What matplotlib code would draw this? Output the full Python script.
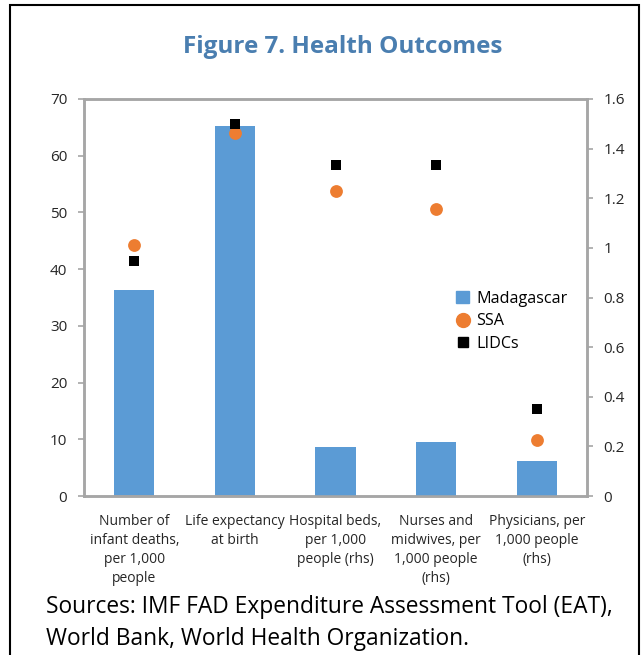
import matplotlib
matplotlib.use('Agg')
import matplotlib.pyplot as plt
from matplotlib.patches import Rectangle
from matplotlib.lines import Line2D
import numpy as np

plt.rcParams['font.family'] = ['Open Sans', 'DejaVu Sans']

categories = ['Number of\ninfant deaths,\nper 1,000\npeople',
              'Life expectancy\nat birth',
              'Hospital beds,\nper 1,000\npeople (rhs)',
              'Nurses and\nmidwives, per\n1,000 people\n(rhs)',
              'Physicians, per\n1,000 people\n(rhs)']
on_rhs = [False, False, True, True, True]
madagascar = [36.3, 65.3, 0.199, 0.217, 0.141]
ssa = [44.2, 64.0, 1.229, 1.155, 0.226]
lidcs = [41.5, 65.6, 1.335, 1.335, 0.351]

bar_color = '#5B9BD5'
ssa_color = '#ED7D31'
spine_color = '#A6A6A6'
my_dpi = 100

fig = plt.figure(figsize=(642/my_dpi, 655/my_dpi), dpi=my_dpi)
ax = fig.add_axes([84/642, 1-496/655, (587-84)/642, (496-99)/655])
ax2 = ax.twinx()

x = np.arange(len(categories))
for i in range(len(categories)):
    a = ax2 if on_rhs[i] else ax
    a.bar(x[i], madagascar[i], width=0.4, color=bar_color, zorder=2)
    a.scatter(x[i], ssa[i], s=85, marker='o', color=ssa_color, zorder=3, linewidths=0)
    a.scatter(x[i], lidcs[i], s=55, marker='s', color='black', zorder=4, linewidths=0)

ax.set_xlim(-0.5, len(categories)-0.5)
ax.set_ylim(0, 70)
ax.set_yticks(np.arange(0, 71, 10))
ax2.set_ylim(0, 1.6)
ax2.set_yticks([0, 0.2, 0.4, 0.6, 0.8, 1.0, 1.2, 1.4, 1.6])
ax2.set_yticklabels(['0', '0.2', '0.4', '0.6', '0.8', '1', '1.2', '1.4', '1.6'])

ax.set_xticks(x)
ax.set_xticklabels(categories, fontsize=10, color='#262626', linespacing=1.35, va='top')
ax.tick_params(axis='x', length=0, pad=13)
ax.tick_params(axis='y', length=4, width=1.2, color=spine_color, labelsize=11, labelcolor='#262626', pad=8)
ax2.tick_params(axis='y', length=4, width=1.2, color=spine_color, labelsize=11, labelcolor='#262626', pad=8)

for a in (ax, ax2):
    for s in a.spines.values():
        s.set_color(spine_color)
        s.set_linewidth(1.8)

handles = [Rectangle((0, 0), 1, 1, color=bar_color),
           Line2D([], [], marker='o', color=ssa_color, linestyle='', markersize=10),
           Line2D([], [], marker='s', color='black', linestyle='', markersize=7)]
ax2.legend(handles, ['Madagascar', 'SSA', 'LIDCs'], loc='center left', bbox_to_anchor=(0.727, 0.44),
           frameon=False, fontsize=11.6, handlelength=0.8, handletextpad=0.45, labelspacing=0.42,
           borderaxespad=0)

fig.text(343/642, 1-47/655, 'Figure 7. Health Outcomes', ha='center', va='center',
         fontsize=17.5, fontweight='bold', color='#4A7EB0')
fig.text(46/642, 1-623/655, 'Sources: IMF FAD Expenditure Assessment Tool (EAT),\nWorld Bank, World Health Organization.',
         ha='left', va='center', fontsize=16.4, color='black', linespacing=1.42)

fig.patches.append(Rectangle((10/642, -0.05), (639-10)/642, 1.05-5/655, transform=fig.transFigure,
                             fill=False, edgecolor='black', linewidth=1.5))

plt.savefig('out.png', dpi=my_dpi)
plt.close()
